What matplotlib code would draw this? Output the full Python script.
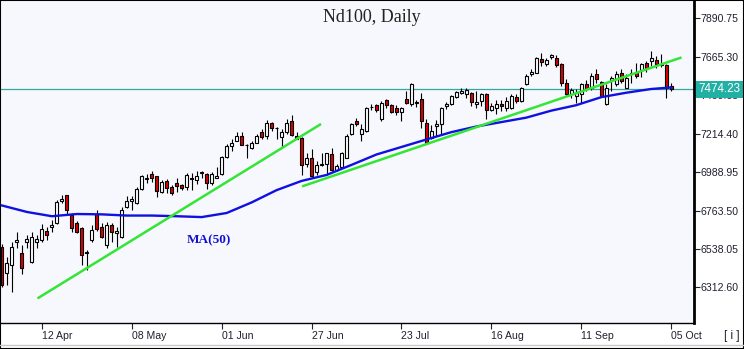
import numpy as np
import matplotlib.pyplot as plt
from matplotlib.lines import Line2D
from matplotlib.patches import Rectangle

# daily candles, oldest first (last bar = 05 Oct)
opens = [6548, 6396, 6443, 6578, 6513, 6578, 6461, 6578, 6589, 6642,
         6665, 6689, 6817, 6852, 6735, 6689, 6659, 6519, 6589, 6741,
         6665, 6560, 6677, 6630, 6607, 6782, 6817, 6806, 6887, 6946,
         6975, 6963, 6870, 6934, 6899, 6922, 6911, 6899, 6957, 6940,
         6984, 6975, 6922, 6957, 6975, 7080, 7139, 7174, 7203, 7147,
         7133, 7162, 7221, 7203, 7279, 7250, 7197, 7226, 7291, 7203,
         7191, 7039, 7074, 6987, 7028, 7039, 7092, 7004, 7016, 7074,
         7215, 7291, 7215, 7232, 7370, 7384, 7302, 7413, 7384, 7367,
         7343, 7419, 7390, 7396, 7419, 7279, 7191, 7261, 7273, 7378,
         7390, 7431, 7454, 7448, 7454, 7390, 7408, 7448, 7355, 7367,
         7390, 7367, 7367, 7431, 7408, 7507, 7565, 7571, 7653, 7624,
         7665, 7659, 7624, 7513, 7448, 7437, 7448, 7507, 7484, 7565,
         7519, 7390, 7530, 7507, 7571, 7484, 7565, 7571, 7589, 7630,
         7641, 7647, 7618, 7618, 7495]
highs = [6566, 6490, 6578, 6636, 6560, 6618, 6636, 6618, 6683, 6665,
         6706, 6823, 6852, 6856, 6747, 6700, 6665, 6531, 6677, 6765,
         6689, 6694, 6689, 6665, 6782, 6846, 6846, 6899, 6969, 6975,
         6998, 6966, 6940, 6946, 6911, 6952, 6917, 6981, 6981, 6993,
         6998, 6981, 6987, 7016, 7086, 7156, 7185, 7221, 7226, 7156,
         7174, 7215, 7244, 7296, 7285, 7256, 7244, 7302, 7326, 7221,
         7193, 7098, 7127, 7051, 7098, 7100, 7133, 7039, 7109, 7215,
         7279, 7308, 7273, 7372, 7390, 7390, 7408, 7419, 7390, 7384,
         7372, 7466, 7513, 7413, 7454, 7302, 7267, 7296, 7372, 7402,
         7443, 7466, 7484, 7484, 7460, 7466, 7454, 7454, 7396, 7413,
         7413, 7431, 7448, 7448, 7489, 7565, 7595, 7662, 7688, 7659,
         7680, 7676, 7626, 7536, 7484, 7478, 7513, 7530, 7571, 7595,
         7524, 7507, 7554, 7583, 7595, 7565, 7595, 7630, 7630, 7641,
         7700, 7671, 7682, 7620, 7513]
lows = [6315, 6326, 6285, 6542, 6391, 6542, 6455, 6542, 6578, 6589,
        6636, 6683, 6806, 6741, 6636, 6630, 6443, 6414, 6578, 6642,
        6601, 6542, 6578, 6548, 6601, 6776, 6765, 6800, 6881, 6922,
        6928, 6841, 6864, 6864, 6852, 6870, 6881, 6881, 6881, 6917,
        6957, 6887, 6911, 6952, 6969, 7074, 7115, 7170, 7145, 7069,
        7127, 7160, 7185, 7180, 7232, 7180, 7133, 7215, 7203, 7180,
        6969, 7016, 6957, 6969, 7022, 6969, 6998, 6998, 7010, 7069,
        7209, 7261, 7174, 7226, 7355, 7343, 7291, 7367, 7337, 7326,
        7291, 7390, 7378, 7372, 7250, 7156, 7185, 7203, 7215, 7361,
        7384, 7425, 7448, 7425, 7378, 7367, 7378, 7302, 7349, 7332,
        7349, 7349, 7361, 7396, 7402, 7501, 7554, 7568, 7612, 7612,
        7653, 7606, 7495, 7443, 7425, 7396, 7396, 7466, 7472, 7513,
        7431, 7384, 7466, 7495, 7513, 7480, 7513, 7542, 7548, 7577,
        7612, 7600, 7606, 7425, 7466]
closes = [6326, 6455, 6548, 6589, 6426, 6595, 6607, 6595, 6654, 6618,
          6677, 6811, 6829, 6765, 6659, 6636, 6502, 6513, 6648, 6654,
          6607, 6677, 6636, 6642, 6765, 6820, 6829, 6887, 6963, 6957,
          6952, 6876, 6928, 6893, 6864, 6905, 6893, 6969, 6946, 6963,
          6987, 6922, 6975, 6963, 7080, 7139, 7162, 7203, 7150, 7150,
          7162, 7203, 7197, 7279, 7250, 7248, 7226, 7279, 7209, 7185,
          7033, 7069, 6963, 7028, 7039, 7098, 7004, 7022, 7098, 7203,
          7273, 7273, 7244, 7367, 7372, 7355, 7396, 7384, 7343, 7343,
          7367, 7396, 7507, 7400, 7291, 7162, 7232, 7273, 7367, 7390,
          7437, 7460, 7466, 7472, 7402, 7402, 7448, 7355, 7378, 7390,
          7378, 7408, 7437, 7408, 7484, 7554, 7577, 7659, 7636, 7647,
          7676, 7618, 7513, 7448, 7472, 7454, 7507, 7478, 7554, 7536,
          7437, 7484, 7542, 7565, 7524, 7542, 7571, 7554, 7624, 7600,
          7659, 7624, 7624, 7484, 7474.23]

# 50-day moving average, read every 5th bar
ma_idx = list(range(0, 131, 5)) + [134]
ma_vals = [6793, 6755, 6730, 6743, 6741, 6734, 6734, 6730, 6725, 6749,
           6811, 6883, 6937, 6972, 7031, 7092, 7136, 7180, 7223, 7256,
           7282, 7308, 7349, 7381, 7428, 7454, 7476, 7485]

# hand-drawn trend lines (bar index, price)
trend_a_x, trend_a_y = [7.1, 63.9], [6248, 7271]
trend_b_x, trend_b_y = [60.1, 136.1], [6905, 7661]

date_labels = ['12 Apr', '08 May', '01 Jun', '27 Jun', '23 Jul', '16 Aug', '11 Sep', '05 Oct']
date_idx = [8, 26, 44, 62, 80, 98, 116, 134]
price_ticks = [6312.60, 6538.05, 6763.50, 6988.95, 7214.40, 7439.85, 7665.30, 7890.75]

W, H = 744, 349
fig = plt.figure(figsize=(W / 100, H / 100), dpi=100, facecolor='white')
ax = fig.add_axes([1 / W, 1 - 323 / H, 693 / W, 322 / H])
ax.set_facecolor('#f6f8fe')

idx = np.arange(len(closes))
o = np.array(opens, dtype=float)
c = np.array(closes, dtype=float)
up = c >= o

ax.vlines(idx, lows, highs, color='black', lw=0.8, zorder=2)
body_lo = np.minimum(o, c)
body_h = np.maximum(np.abs(c - o), 2.0)
ax.bar(idx, body_h, bottom=body_lo, width=0.6,
       color=np.where(up, 'white', '#dd0000'), edgecolor='black', linewidth=0.8, zorder=3)

last = closes[-1]
ax.axhline(last, color='#35a89d', lw=0.9, zorder=1.5)

ax.plot(ma_idx, ma_vals, color='#1010e0', lw=1.7, zorder=4)
ax.plot(trend_a_x, trend_a_y, color='#33e633', lw=1.8, zorder=5, solid_capstyle='butt')
ax.plot(trend_b_x, trend_b_y, color='#33e633', lw=1.8, zorder=5, solid_capstyle='butt')
ax.text(41.5, 6589, 'MA(50)', color='#1010d0', fontsize=9.5, fontweight='bold',
        family='Liberation Serif', ha='center', va='center', zorder=6)

ax.set_xlim(-0.2, 138.6)
ax.set_ylim(6104, 7992)

ax.yaxis.tick_right()
ax.set_yticks(price_ticks)
ax.set_yticklabels([f'{p:.2f}' for p in price_ticks])
ax.set_xticks(date_idx)
ax.set_xticklabels(date_labels)
for lab in ax.get_xticklabels():
    lab.set_horizontalalignment('left')
ax.tick_params(axis='y', direction='out', length=4, width=0.8, pad=1,
               labelsize=7.6, labelcolor='#202030', colors='#202030')
ax.tick_params(axis='x', direction='out', length=4, width=0.8, pad=2,
               labelsize=7.6, labelcolor='#202030', colors='#202030')
for lab in ax.get_xticklabels() + ax.get_yticklabels():
    lab.set_family('Liberation Sans')

ax.spines['left'].set_visible(False)
ax.spines['top'].set_visible(False)
ax.spines['right'].set_linewidth(2.0)
ax.spines['bottom'].set_linewidth(1.0)

# last price tag on the price scale
ax.text(1.006, last, f'{last:.2f}', transform=ax.get_yaxis_transform(),
        ha='left', va='center', color='white', fontsize=8.4, family='Liberation Sans',
        bbox=dict(boxstyle='square,pad=0.22', fc='#22b0a5', ec='none'),
        clip_on=False, zorder=10)

fig.text(372 / W, 1 - 18 / H, 'Nd100, Daily', ha='center', va='center',
         fontsize=13, family='Liberation Serif', color='#222222')
fig.text(732 / W, 1 - 336 / H, '[ i ]', ha='center', va='center',
         fontsize=8.5, family='Liberation Sans', color='#202030')

fig.add_artist(Line2D([0, 1], [1 - 345 / H] * 2, color='#c8c8c8', lw=1.0))
fig.add_artist(Rectangle((0, 0), 1, 1, transform=fig.transFigure,
                         fill=False, ec='black', lw=1.5))

fig.savefig('out.png', dpi=100, facecolor='white')
